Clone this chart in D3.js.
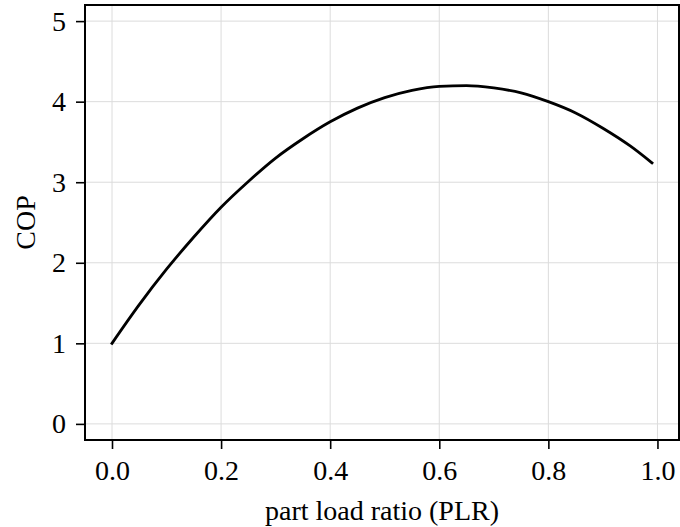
<!DOCTYPE html>
<html>
<head>
<meta charset="utf-8">
<script src="https://cdn.jsdelivr.net/npm/d3@7"></script>
<style>
  body { margin: 0; background: #fff; }
  svg text { font-family: "Liberation Serif", "DejaVu Serif", serif; fill: #000; }
</style>
</head>
<body>
<svg id="chart" width="680" height="527"></svg>
<script>
// part load ratio vs COP
const plr = [0, 0.05, 0.1, 0.15, 0.2, 0.25, 0.3, 0.35, 0.4, 0.45, 0.5,
  0.55, 0.6, 0.65, 0.7, 0.75, 0.8, 0.85, 0.9, 0.95, 0.99];
const cop = [1.00, 1.48, 1.92, 2.32, 2.69, 3.01, 3.30, 3.54, 3.75, 3.92, 4.05,
  4.14, 4.19, 4.20, 4.17, 4.11, 4.00, 3.86, 3.67, 3.45, 3.24];

const xTicks = [0, 0.2, 0.4, 0.6, 0.8, 1.0];
const yTicks = [0, 1, 2, 3, 4, 5];

const svg = d3.select("#chart");
const margin = { top: 5, right: 1, bottom: 87, left: 85 };
const width = +svg.attr("width") - margin.left - margin.right;
const height = +svg.attr("height") - margin.top - margin.bottom;
const fontSize = "28px";

const chart = svg.append("g")
  .attr("transform", `translate(${margin.left},${margin.top})`);

// scales (matplotlib style 5% padding)
const xScale = d3.scaleLinear().domain([-0.0495, 1.0395]).range([0, width]);
const yScale = d3.scaleLinear().domain([-0.2, 5.2]).range([height, 0]);

// grid
chart.append("g")
  .selectAll("line")
  .data(xTicks)
  .enter()
  .append("line")
  .attr("x1", d => xScale(d)).attr("x2", d => xScale(d))
  .attr("y1", 0).attr("y2", height)
  .attr("stroke", "#dcdcdc").attr("stroke-width", 1);

chart.append("g")
  .selectAll("line")
  .data(yTicks)
  .enter()
  .append("line")
  .attr("x1", 0).attr("x2", width)
  .attr("y1", d => yScale(d)).attr("y2", d => yScale(d))
  .attr("stroke", "#dcdcdc").attr("stroke-width", 1);

// curve
const line = d3.line()
  .x((d, i) => xScale(plr[i]))
  .y(d => yScale(d))
  .curve(d3.curveMonotoneX);

chart.append("path")
  .datum(cop)
  .attr("fill", "none")
  .attr("stroke", "#000")
  .attr("stroke-width", 2.8)
  .attr("stroke-linecap", "square")
  .attr("d", line);

// axes
const xAxis = chart.append("g")
  .attr("transform", `translate(0,${height})`)
  .call(d3.axisBottom(xScale).tickValues(xTicks).tickFormat(d3.format(".1f"))
    .tickSize(9).tickPadding(11).tickSizeOuter(0));

const yAxis = chart.append("g")
  .call(d3.axisLeft(yScale).tickValues(yTicks).tickFormat(d3.format("d"))
    .tickSize(9).tickPadding(10).tickSizeOuter(0));

[xAxis, yAxis].forEach(a => {
  a.select(".domain").remove();
  a.selectAll(".tick line").attr("stroke", "#000").attr("stroke-width", 1.6);
  a.selectAll(".tick text").style("font-size", fontSize);
});

// frame
chart.append("rect")
  .attr("x", 0).attr("y", 0)
  .attr("width", width).attr("height", height)
  .attr("fill", "none")
  .attr("stroke", "#000")
  .attr("stroke-width", 2);

// labels
svg.append("text")
  .attr("x", margin.left + width / 2)
  .attr("y", 520)
  .attr("text-anchor", "middle")
  .style("font-size", fontSize)
  .text("part load ratio (PLR)");

svg.append("text")
  .attr("transform", `translate(35,${margin.top + height / 2}) rotate(-90)`)
  .attr("text-anchor", "middle")
  .style("font-size", fontSize)
  .text("COP");
</script>
</body>
</html>
